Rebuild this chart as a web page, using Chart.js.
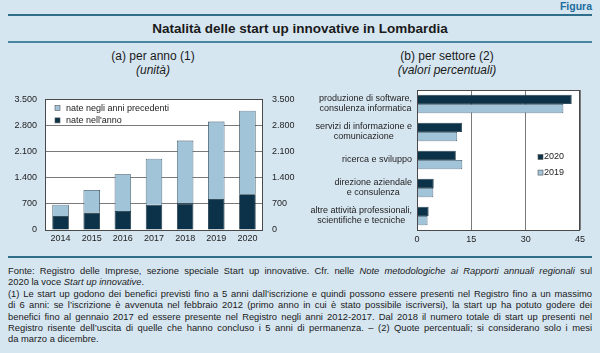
<!DOCTYPE html>
<html>
<head>
<meta charset="utf-8">
<script src="https://cdn.jsdelivr.net/npm/chart.js@4.4.1/dist/chart.umd.min.js"></script>
<style>
  html, body { margin: 0; padding: 0; }
  body { width: 600px; height: 353px; background: #d6e6f1; position: relative; overflow: hidden;
         font-family: "Liberation Sans", Arial, sans-serif; color: #1a1a1a; }
  .abs { position: absolute; }
  #figura { right: 8px; top: 0px; font-size: 10.5px; font-weight: bold; color: #1d6c9c; line-height: 12px; }
  .rule { position: absolute; left: 8px; width: 584px; background: #2f6f8c; }
  #title { left: 0; width: 600px; top: 21px; text-align: center; font-size: 13.5px; font-weight: bold; line-height: 16px; }
  .sub { top: 49px; width: 300px; text-align: center; font-size: 12px; line-height: 14px; }
  .sub i { display: block; }
  #note { left: 8px; top: 265px; width: 584px; font-size: 9.4px; line-height: 11.4px; }
  #note div { text-align: justify; text-align-last: justify; white-space: nowrap; }
  #note div.last { text-align-last: left; }
  .box { position: absolute; top: 85px; width: 300px; height: 170px; }
</style>
</head>
<body>
<div id="figura" class="abs">Figura</div>
<div class="rule" style="top:14px;height:2px;"></div>
<div id="title" class="abs">Natalità delle start up innovative in Lombardia</div>
<div class="rule" style="top:41px;height:1.5px;background:#4a86a2;"></div>
<div class="abs sub" style="left:3px;">(a) per anno (1)<i>(unità)</i></div>
<div class="abs sub" style="left:297px;">(b) per settore (2)<i>(valori percentuali)</i></div>

<div class="box" style="left:0;"><canvas id="annoChart" width="300" height="170"></canvas></div>
<div class="box" style="left:300px;top:86px;"><canvas id="settoreChart" width="300" height="170"></canvas></div>

<div class="rule" style="top:256px;height:2px;"></div>
<div id="note" class="abs">
  <div>Fonte: Registro delle Imprese, sezione speciale Start up innovative. Cfr. nelle <i>Note metodologiche ai Rapporti annuali regionali</i> sul</div>
  <div class="last">2020 la voce <i>Start up innovative</i>.</div>
  <div>(1) Le start up godono dei benefici previsti fino a 5 anni dall’iscrizione e quindi possono essere presenti nel Registro fino a un massimo</div>
  <div>di 6 anni: se l’iscrizione è avvenuta nel febbraio 2012 (primo anno in cui è stato possibile iscriversi), la start up ha potuto godere dei</div>
  <div>benefici fino al gennaio 2017 ed essere presente nel Registro negli anni 2012-2017. Dal 2018 il numero totale di start up presenti nel</div>
  <div>Registro risente dell’uscita di quelle che hanno concluso i 5 anni di permanenza. – (2) Quote percentuali; si considerano solo i mesi</div>
  <div class="last">da marzo a dicembre.</div>
</div>

<script>
// dati (a): start up per anno
const anni = ['2014', '2015', '2016', '2017', '2018', '2019', '2020'];
const nateNellAnno = [375, 467, 510, 680, 714, 833, 960];
const nateAnniPrecedenti = [305, 603, 985, 1231, 1682, 2072, 2234];
const tickAnno = [0, 700, 1400, 2100, 2800, 3500];

// dati (b): quote per settore
const settori = [
    ['produzione di software,', 'consulenza informatica'],
    ['servizi di informazione e', 'comunicazione'],
    ['ricerca e sviluppo'],
    ['direzione aziendale', 'e consulenza'],
    ['altre attività professionali,', 'scientifiche e tecniche']
];
const quote2020 = [42.7, 12.4, 10.7, 4.6, 3.2];
const quote2019 = [40.4, 11.1, 12.5, 4.5, 2.9];
const tickSettore = [0, 15, 30, 45];

const scuro = '#0b3248';
const chiaro = '#a2c4d9';
const griglia = '#7a7a7a';

Chart.defaults.font.family = '"Liberation Sans", Arial, sans-serif';
Chart.defaults.font.size = 9;
Chart.defaults.color = '#222';
Chart.defaults.animation = false;

function puntiMigliaia(v) {
    return String(v).replace(/\B(?=(\d{3})+(?!\d))/g, '.');
}

// sfondo bianco e cornice dell'area del grafico
const cornice = {
    id: 'cornice',
    beforeDraw(chart) {
        const a = chart.chartArea, ctx = chart.ctx;
        ctx.save();
        ctx.fillStyle = '#ffffff';
        ctx.fillRect(a.left, a.top, a.right - a.left, a.bottom - a.top);
        ctx.restore();
    },
    afterDatasetsDraw(chart) {
        const a = chart.chartArea, ctx = chart.ctx;
        ctx.save();
        ctx.strokeStyle = '#4a4a4a';
        ctx.lineWidth = 1;
        ctx.strokeRect(Math.round(a.left) + 0.5, Math.round(a.top) + 0.5,
            Math.round(a.right - a.left) - 1, Math.round(a.bottom - a.top));
        ctx.restore();
    }
};

// legenda disegnata dentro il grafico
function legendaInterna(x, y0, passo) {
    return {
        id: 'legendaInterna',
        afterDraw(chart) {
            const ctx = chart.ctx, a = chart.chartArea;
            const ordine = chart.config.options.ordineLegenda;
            ctx.save();
            ctx.font = '9px "Liberation Sans", Arial, sans-serif';
            ctx.textBaseline = 'middle';
            ordine.forEach(function (i, k) {
                const ds = chart.data.datasets[i];
                const y = a.top + y0 + k * passo;
                ctx.fillStyle = ds.backgroundColor;
                ctx.fillRect(a.left + x, y - 2.5, 5, 5);
                ctx.strokeStyle = '#555';
                ctx.lineWidth = 0.6;
                ctx.strokeRect(a.left + x, y - 2.5, 5, 5);
                ctx.fillStyle = '#222';
                ctx.fillText(ds.label, a.left + x + (chart.config.options.gapLegenda || 11), y);
            });
            ctx.restore();
        }
    };
}

new Chart(document.getElementById('annoChart').getContext('2d'), {
    type: 'bar',
    data: {
        labels: anni,
        datasets: [{
            label: "nate nell'anno",
            data: nateNellAnno,
            backgroundColor: scuro,
            borderColor: '#0a2433',
            borderWidth: 0.8,
            barPercentage: 0.53,
            categoryPercentage: 1
        }, {
            label: 'nate negli anni precedenti',
            data: nateAnniPrecedenti,
            backgroundColor: chiaro,
            borderColor: '#2e4a5a',
            borderWidth: 0.8,
            barPercentage: 0.53,
            categoryPercentage: 1
        }]
    },
    options: {
        responsive: false,
        ordineLegenda: [1, 0],
        layout: { padding: { top: 7, left: 0, right: 0, bottom: 0 } },
        plugins: { legend: { display: false }, tooltip: { enabled: false } },
        scales: {
            x: {
                stacked: true,
                grid: { display: false, drawTicks: false },
                border: { display: false },
                ticks: { padding: 3, font: { size: 9 } },
                afterFit: function (s) { s.height = 25; }
            },
            y: {
                stacked: true,
                min: 0, max: 3500,
                afterBuildTicks: function (s) { s.ticks = tickAnno.map(v => ({ value: v })); },
                grid: { color: griglia, lineWidth: 1, drawTicks: false },
                border: { display: false },
                ticks: { padding: 8, callback: v => puntiMigliaia(v) },
                afterFit: function (s) { s.width = 45; }
            },
            y2: {
                position: 'right',
                min: 0, max: 3500,
                afterBuildTicks: function (s) { s.ticks = tickAnno.map(v => ({ value: v })); },
                grid: { display: false, drawTicks: false },
                border: { display: false },
                ticks: { padding: 9, callback: v => puntiMigliaia(v) },
                afterFit: function (s) { s.width = 37; }
            }
        }
    },
    plugins: [cornice, legendaInterna(10, 8.7, 12.3)]
});

// etichette dei settori: blocco allineato a destra, righe centrate
const etichetteSettori = {
    id: 'etichetteSettori',
    afterDraw(chart) {
        const ctx = chart.ctx, s = chart.scales.y;
        ctx.save();
        ctx.font = '9px "Liberation Sans", Arial, sans-serif';
        ctx.fillStyle = '#222';
        ctx.textAlign = 'center';
        ctx.textBaseline = 'middle';
        chart.data.labels.forEach(function (righe, i) {
            const yc = s.getPixelForTick(i);
            const larg = Math.max.apply(null, righe.map(r => ctx.measureText(r).width));
            const xc = s.right - 5 - larg / 2;
            righe.forEach(function (r, k) {
                ctx.fillText(r, xc, yc + (k - (righe.length - 1) / 2) * 10);
            });
        });
        ctx.restore();
    }
};

new Chart(document.getElementById('settoreChart').getContext('2d'), {
    type: 'bar',
    data: {
        labels: settori,
        datasets: [{
            label: '2020',
            data: quote2020,
            backgroundColor: scuro,
            borderColor: '#0a2433',
            borderWidth: 0.8,
            barPercentage: 1,
            categoryPercentage: 0.665
        }, {
            label: '2019',
            data: quote2019,
            backgroundColor: chiaro,
            borderColor: '#2e4a5a',
            borderWidth: 0.8,
            barPercentage: 1,
            categoryPercentage: 0.665
        }]
    },
    options: {
        responsive: false,
        indexAxis: 'y',
        ordineLegenda: [0, 1],
        gapLegenda: 6,
        layout: { padding: { top: 4, left: 0, right: 20, bottom: 0 } },
        plugins: { legend: { display: false }, tooltip: { enabled: false } },
        scales: {
            x: {
                min: 0, max: 45,
                afterBuildTicks: function (s) { s.ticks = tickSettore.map(v => ({ value: v })); },
                grid: { color: griglia, lineWidth: 1, drawTicks: false },
                border: { display: false },
                ticks: { padding: 4 },
                afterFit: function (s) { s.height = 26; }
            },
            y: {
                grid: { display: false, drawTicks: false },
                border: { display: false },
                ticks: { display: false },
                afterFit: function (s) { s.width = 117; }
            }
        }
    },
    plugins: [cornice, etichetteSettori, legendaInterna(121, 67, 15.6)]
});
</script>
</body>
</html>
